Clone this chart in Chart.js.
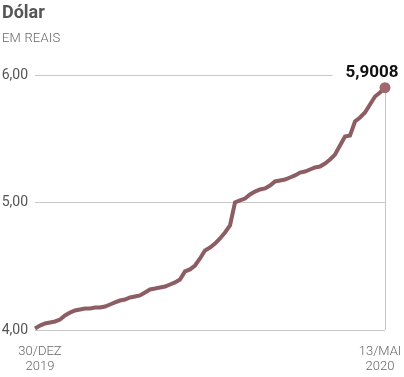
<!DOCTYPE html>
<html><head><meta charset="utf-8">
<script src="https://cdn.jsdelivr.net/npm/chart.js@4/dist/chart.umd.min.js"></script>
<style>
html,body{margin:0;padding:0;background:#fff;}
#wrap{position:relative;width:404px;height:377px;overflow:hidden;}
#t{position:absolute;left:2px;top:1px;font:bold 18px Roboto,sans-serif;color:#555;}
#s{position:absolute;left:2px;top:30px;font:300 13px Roboto,sans-serif;color:#666;letter-spacing:0.2px;}
canvas{position:absolute;left:0;top:0;}
</style></head><body>
<div id="wrap">
<canvas id="c" width="404" height="377"></canvas>
<div id="t">Dólar</div>
<div id="s">EM REAIS</div>
</div>
<script>
const title = 'Dólar';
const subtitle = 'EM REAIS';
const firstTick = ['30/DEZ', '2019'];
const lastTick = ['13/MAI', '2020'];
const yTicks = [4, 5, 6];
const lastValueLabel = '5,9008';
const values = [4.012,4.035,4.051,4.059,4.067,4.082,4.114,4.137,4.153,4.161,
4.169,4.169,4.176,4.176,4.184,4.200,4.216,4.231,4.239,4.255,
4.263,4.271,4.294,4.318,4.325,4.333,4.341,4.357,4.373,4.396,
4.459,4.475,4.506,4.561,4.624,4.647,4.678,4.718,4.765,4.820,
5.000,5.016,5.031,5.063,5.086,5.102,5.110,5.133,5.165,5.173,
5.180,5.196,5.212,5.235,5.243,5.259,5.275,5.282,5.306,5.337,
5.376,5.447,5.518,5.525,5.635,5.667,5.706,5.769,5.831,5.863,5.9008];
const labels = values.map((v,i)=>String(i));
const N = values.length;

const endPlugin = {
  id:'endPlugin',
  beforeDatasetsDraw(chart){
    const ctx=chart.ctx, x=chart.scales.x, y=chart.scales.y;
    const px=x.getPixelForValue(N-1), py=y.getPixelForValue(values[N-1]);
    ctx.save();
    ctx.strokeStyle='#c8c8c8';ctx.lineWidth=1;
    ctx.beginPath();ctx.moveTo(Math.round(px)+0.5,py);ctx.lineTo(Math.round(px)+0.5,y.getPixelForValue(4));ctx.stroke();
    ctx.font='bold 17px Roboto, sans-serif';
    const w=ctx.measureText(lastValueLabel).width;
    const cx=px-13, cy=py-15;
    ctx.fillStyle='#fff';
    ctx.fillRect(cx-w/2-13,cy-10,w+26,20);
    ctx.fillStyle='#111';ctx.textAlign='center';ctx.textBaseline='middle';
    ctx.fillText(lastValueLabel,cx,cy);
    ctx.restore();
  }
};

new Chart(document.getElementById('c'),{
  type:'line',
  data:{labels:labels,datasets:[{
    data:values,
    borderColor:'#8d5d64',
    borderWidth:4,
    tension:0,
    fill:false,
    pointRadius:(c)=>c.dataIndex===N-1?5.5:0,
    pointBackgroundColor:'#a0676f',
    pointBorderWidth:0,
    pointHoverRadius:0,
    clip:false
  }]},
  options:{
    responsive:false,animation:false,devicePixelRatio:1,
    layout:{padding:{top:75,right:19,left:0,bottom:0}},
    plugins:{legend:{display:false},tooltip:{enabled:false}},
    scales:{
      x:{
        grid:{display:false,drawTicks:false},border:{display:false},
        afterFit:(s)=>{s.height=47;},
        ticks:{autoSkip:false,maxRotation:0,padding:14,color:'#666',
          font:{family:'Roboto',size:13,weight:'300',lineHeight:1.15},
          callback:(v,i)=> i===1?firstTick:(i===N-2?lastTick:'')}
      },
      y:{
        min:4,max:6,
        afterFit:(s)=>{s.width=35;},
        afterBuildTicks:(s)=>{s.ticks=yTicks.map(v=>({value:v}));},
        grid:{color:'#c8c8c8',drawTicks:false,lineWidth:1},border:{display:false},
        ticks:{padding:7,color:'#555',font:{family:'Roboto',size:14},
          callback:(v)=>v.toFixed(2).replace('.',',')}
      }
    }
  },
  plugins:[endPlugin]
});
</script>
</body></html>
